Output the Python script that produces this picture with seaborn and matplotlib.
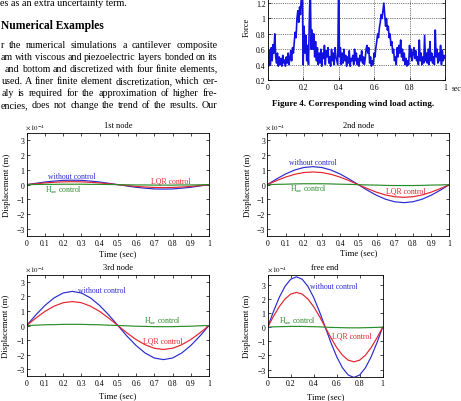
import matplotlib
matplotlib.use("Agg")
import matplotlib.pyplot as plt
import numpy as np
import pandas as pd
import seaborn as sns
from matplotlib.ticker import FormatStrFormatter

W, H = 461, 402

# ---- data ----
t_curve = [0, 0.05, 0.1, 0.15, 0.2, 0.25, 0.3, 0.35, 0.4, 0.45, 0.5,
           0.55, 0.6, 0.65, 0.7, 0.75, 0.8, 0.85, 0.9, 0.95, 1.0]

node1_without = [0, 0.09, 0.18, 0.24, 0.29, 0.30, 0.29, 0.24, 0.18, 0.09, 0,
                 -0.09, -0.18, -0.24, -0.29, -0.30, -0.29, -0.24, -0.18, -0.09, 0]
node1_lqr = [0, 0.06, 0.12, 0.16, 0.19, 0.20, 0.19, 0.16, 0.12, 0.06, 0,
             -0.06, -0.12, -0.16, -0.19, -0.20, -0.19, -0.16, -0.12, -0.06, 0]
node1_hinf = [0, 0.01, 0.02, 0.02, 0.03, 0.03, 0.03, 0.02, 0.02, 0.01, 0,
              -0.01, -0.02, -0.02, -0.03, -0.03, -0.03, -0.02, -0.02, -0.01, 0]

node2_without = [0, 0.38, 0.72, 0.99, 1.16, 1.22, 1.16, 0.99, 0.72, 0.38, 0,
                 -0.38, -0.72, -0.99, -1.16, -1.22, -1.16, -0.99, -0.72, -0.38, 0]
node2_lqr = [0, 0.27, 0.51, 0.70, 0.82, 0.86, 0.82, 0.70, 0.51, 0.27, 0,
             -0.27, -0.51, -0.70, -0.82, -0.86, -0.82, -0.70, -0.51, -0.27, 0]
node2_hinf = [0, 0.02, 0.03, 0.05, 0.06, 0.06, 0.06, 0.05, 0.03, 0.02, 0,
              -0.02, -0.03, -0.05, -0.06, -0.06, -0.06, -0.05, -0.03, -0.02, 0]

node3_without = [0, 0.73, 1.38, 1.90, 2.24, 2.35, 2.24, 1.90, 1.38, 0.73, 0,
                 -0.73, -1.38, -1.90, -2.24, -2.35, -2.24, -1.90, -1.38, -0.73, 0]
node3_lqr = [0, 0.51, 0.97, 1.33, 1.57, 1.65, 1.57, 1.33, 0.97, 0.51, 0,
             -0.51, -0.97, -1.33, -1.57, -1.65, -1.57, -1.33, -0.97, -0.51, 0]
node3_hinf = [0, 0.02, 0.05, 0.06, 0.08, 0.08, 0.08, 0.06, 0.05, 0.02, 0,
              -0.02, -0.05, -0.06, -0.08, -0.08, -0.08, -0.06, -0.05, -0.02, 0]

free_without = [0, 1.10, 2.09, 2.87, 3.38, 3.55, 3.38, 2.87, 2.09, 1.10, 0,
                -1.10, -2.09, -2.87, -3.38, -3.55, -3.38, -2.87, -2.09, -1.10, 0]
free_lqr = [0, 0.76, 1.44, 1.98, 2.33, 2.45, 2.33, 1.98, 1.44, 0.76, 0,
            -0.76, -1.44, -1.98, -2.33, -2.45, -2.33, -1.98, -1.44, -0.76, 0]
free_hinf = [0, 0.02, 0.03, 0.04, 0.05, 0.05, 0.05, 0.04, 0.03, 0.02, 0,
             -0.02, -0.03, -0.04, -0.05, -0.05, -0.05, -0.04, -0.03, -0.02, 0]

wind_force = [
    0.55, 0.38, 0.58, 0.40, 0.62, 0.45, 0.66, 0.55, 0.80, 0.50,
    0.42, 0.55, 0.38, 0.50, 0.40, 0.48, 0.38, 0.52, 0.42, 0.46,
    0.38, 0.50, 0.42, 0.55, 0.40, 0.48, 0.58, 0.45, 0.62, 0.55,
    0.70, 0.82, 0.75, 1.00, 1.10, 0.95, 1.15, 1.05, 1.30, 1.45,
    0.40, 0.90, 0.55, 0.78, 0.45, 0.65, 0.40, 1.00, 1.45, 0.60,
    0.85, 0.60, 0.80, 0.50, 0.70, 0.45, 0.62, 0.40, 0.55, 0.42,
    0.60, 0.38, 0.55, 0.48, 0.65, 0.40, 0.58, 0.50, 0.62, 0.42,
    0.50, 0.38, 0.60, 0.45, 0.55, 0.40, 0.62, 0.50, 0.45, 0.40,
    1.45, 0.50, 0.62, 0.40, 0.55, 0.42, 0.60, 0.45, 0.52, 0.38,
    0.50, 0.42, 0.58, 0.38, 0.48, 0.45, 0.52, 0.40, 0.60, 0.45,
    0.55, 0.40, 0.48, 0.38, 0.52, 0.45, 0.58, 0.42, 0.50, 0.40,
    0.48, 0.60, 0.65, 0.55, 0.62, 0.42, 0.50, 0.38, 0.45, 0.40,
    0.55, 0.50, 0.62, 0.70, 0.80, 0.75, 0.88, 0.95, 1.05, 1.00,
    1.10, 1.20, 1.05, 0.90, 1.00, 0.85, 0.90, 0.75, 0.80, 0.65,
    0.70, 0.55, 0.60, 0.45, 0.50, 0.40, 0.62, 0.50, 0.65, 0.55,
    0.72, 0.50, 0.60, 0.45, 0.55, 0.40, 0.48, 0.38, 0.45, 0.40,
    0.65, 0.50, 0.60, 0.45, 0.55, 0.62, 0.48, 0.58, 0.45, 0.50,
    0.40, 0.72, 0.45, 0.55, 0.40, 0.50, 0.42, 0.78, 0.45, 0.55,
    0.42, 0.60, 0.40, 0.70, 0.45, 0.55, 0.42, 0.50, 0.40, 0.85,
    0.50, 0.60, 0.42, 0.55, 0.45, 0.65, 0.40, 0.58, 0.45, 0.52,
    0.48,
]
t_force = np.linspace(0, 1, len(wind_force))

body_lines = [
    "r the numerical simulations a cantilever composite",
    "am with viscous and piezoelectric layers bonded on its",
    "and bottom and discretized with four finite elements,",
    "used. A finer finite element discretization, which cer-",
    "aly is required for the approximation of higher fre-",
    "encies, does not change the trend of the results. Our",
]
body_x0 = [0.5, 1, 5, 1.5, 1.5, 1]

BLUE, RED, GREEN = "#2b2bd0", "#e3232d", "#2a8c2a"

sns.set_theme(style="ticks")
plt.rcParams.update({
    "font.family": ["Liberation Serif", "DejaVu Serif"],
    "mathtext.fontset": "stix",
    "axes.linewidth": 0.6,
    "axes.edgecolor": "black",
    "xtick.direction": "in", "ytick.direction": "in",
    "xtick.top": True, "ytick.right": True,
    "xtick.major.size": 2.2, "ytick.major.size": 2.2,
    "xtick.major.width": 0.5, "ytick.major.width": 0.5,
    "xtick.major.pad": 2.0, "ytick.major.pad": 1.5,
    "xtick.labelsize": 5.6, "ytick.labelsize": 5.6,
    "xtick.color": "black", "ytick.color": "black",
    "text.color": "black",
})

fig = plt.figure(figsize=(W / 100, H / 100), dpi=100)
fig.patch.set_facecolor("white")


def box(left, top, right, bottom):
    return [left / W, 1 - bottom / H, (right - left) / W, (bottom - top) / H]


def ftext(x, y, s, **kw):
    return fig.text(x / W, 1 - y / H, s, **kw)


def justified(line, x0, x1, y, size):
    words = line.split()
    arts = [ftext(0, y, w, fontsize=size, va="baseline") for w in words]
    renderer = fig.canvas.get_renderer()
    widths = [a.get_window_extent(renderer).width for a in arts]
    gap = (x1 - x0 - sum(widths)) / (len(words) - 1)
    x = x0
    for a, w in zip(arts, widths):
        a.set_x(x / W)
        x += w + gap


# ---- left column text ----
ftext(0, 6.5, "es as an extra uncertainty term.", fontsize=7.3, va="baseline")
ftext(0.5, 29, "Numerical Examples", fontsize=8.3, weight="bold", va="baseline")
for i, (line, x0) in enumerate(zip(body_lines, body_x0)):
    justified(line, x0, 217.5, 47.5 + 12.1 * i, 7.2)

# ---- wind load plot ----
axf = fig.add_axes(box(267.7, -11.3, 445, 81))
sns.lineplot(x=t_force, y=wind_force, ax=axf, color="#1212e0", lw=1.2)
axf.set_xlim(0, 1)
axf.set_ylim(0.2, 1.4)
axf.set_xticks([0, 0.2, 0.4, 0.6, 0.8, 1.0])
axf.set_yticks([0.2, 0.4, 0.6, 0.8, 1.0, 1.2])
axf.xaxis.set_major_formatter(FormatStrFormatter("%g"))
axf.yaxis.set_major_formatter(FormatStrFormatter("%g"))
axf.grid(True, linestyle=":", color="black", lw=0.5)
ftext(246.5, 27, "Force", fontsize=6, rotation=90, ha="center", va="center")
ftext(452, 89.5, "sec", fontsize=5.6, ha="left", va="center")
ftext(353, 104.3, "Figure 4. Corresponding wind load acting.",
      fontsize=6.5, weight="bold", ha="center", va="center")


# ---- displacement panels ----
def panel(rect, title, without, lqr, hinf, ylim, xticks, ylab_x, xlab_y, labels):
    ax = fig.add_axes(box(*rect))
    df = pd.DataFrame({
        "t": t_curve * 3,
        "d": without + lqr + hinf,
        "case": ["without"] * 21 + ["lqr"] * 21 + ["hinf"] * 21,
    })
    sns.lineplot(data=df, x="t", y="d", hue="case", palette=[BLUE, RED, GREEN],
                 lw=0.85, legend=False, ax=ax)
    ax.set_xlim(0, 1)
    ax.set_ylim(*ylim)
    ax.set_yticks([-3, -2, -1, 0, 1, 2, 3])
    ax.set_xticks(xticks)
    ax.xaxis.set_major_formatter(FormatStrFormatter("%g"))
    ax.set_xlabel("")
    ax.set_ylabel("")
    ax.set_title(title, fontsize=6, pad=4)
    ax.text(-0.01, 1.015, r"$\times\,10^{-4}$", transform=ax.transAxes,
            fontsize=5, ha="left", va="bottom")
    left, top, right, bottom = rect
    ftext(ylab_x, (top + bottom) / 2, "Displacement (m)", fontsize=6.3,
          rotation=90, ha="center", va="center")
    ftext((left + right) / 2, xlab_y, "Time (sec)", fontsize=6.3,
          ha="center", va="center")
    for (x, y, s, c) in labels:
        ax.text(x, y, s, color=c, fontsize=5.6, va="center", ha="left")
    return ax


xt10 = [0, 0.1, 0.2, 0.3, 0.4, 0.5, 0.6, 0.7, 0.8, 0.9, 1.0]
xt5 = [0, 0.2, 0.4, 0.6, 0.8, 1.0]
HINF = r"H$_{\infty}$ control"

panel((26.7, 134, 209, 237.3), "1st node", node1_without, node1_lqr, node1_hinf,
      (-3.5, 3.5), xt10, 7, 254,
      [(0.115, 0.62, "without control", BLUE),
       (0.68, 0.28, "LQR control", RED),
       (0.10, -0.32, HINF, GREEN)])

panel((267.3, 134, 449.3, 237.3), "2nd node", node2_without, node2_lqr, node2_hinf,
      (-3.5, 3.5), xt10, 248.3, 253,
      [(0.12, 1.55, "without control", BLUE),
       (0.65, -0.42, "LQR control", RED),
       (0.125, -0.25, HINF, GREEN)])

panel((26.7, 275.7, 209, 377.3), "3rd node", node3_without, node3_lqr, node3_hinf,
      (-3.5, 3.5), xt10, 6, 396,
      [(0.28, 2.46, "without control", BLUE),
       (0.64, -1.03, "LQR control", RED),
       (0.645, 0.32, HINF, GREEN)])

panel((267.7, 275.7, 382.7, 377.7), "free end", free_without, free_lqr, free_hinf,
      (-3.5, 3.7), xt5, 246.7, 396.7,
      [(0.37, 2.9, "without control", BLUE),
       (0.56, -0.6, "LQR control", RED),
       (0.10, 0.45, HINF, GREEN)])

fig.savefig("out.png", dpi=100, facecolor="white")
